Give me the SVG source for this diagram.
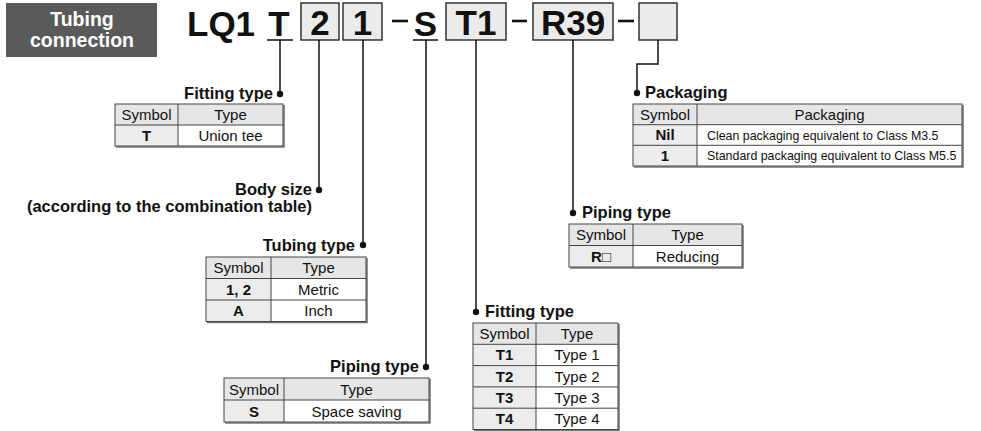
<svg xmlns="http://www.w3.org/2000/svg" width="981" height="431" viewBox="0 0 981 431">
<style>
text{font-family:"Liberation Sans",Arial,sans-serif;fill:#111}
.code{font-size:35px;font-weight:bold;text-anchor:middle}
.lab{font-size:16.5px;font-weight:bold}
.t{font-size:15px;text-anchor:middle}
.b{font-weight:bold}
.d{font-size:12.4px}
.box{fill:#ebebeb;stroke:#333;stroke-width:1.5}
.hd{fill:#e6e6e6}
.sy{fill:#ececec}
.wh{fill:#fff}
.grid{fill:none;stroke:#444;stroke-width:1}
.sh{fill:none;stroke:#777;stroke-width:1.6}
.con{fill:none;stroke:#111;stroke-width:1.5}
.dash{stroke:#111;stroke-width:2.6}
.ttl{font-size:19.5px;font-weight:bold;fill:#fff;text-anchor:middle}
</style>
<g id="title">
<rect x="6" y="3" width="151" height="54" fill="#5a5a5a"/>
<text x="82" y="26" class="ttl">Tubing</text>
<text x="82" y="47" class="ttl">connection</text>
</g>
<g id="code">
<text x="187" y="36" class="code" style="text-anchor:start">LQ1</text>
<text x="279" y="36" class="code">T</text>
<line x1="267" y1="40" x2="293" y2="40" stroke="#111" stroke-width="1.5"/>
<rect x="301" y="3" width="38" height="37" class="box"/>
<text x="320" y="35" class="code">2</text>
<rect x="343" y="3" width="39" height="37" class="box"/>
<text x="362.5" y="35" class="code">1</text>
<line x1="392" y1="21" x2="408" y2="21" class="dash"/>
<text x="425.5" y="36" class="code">S</text>
<line x1="413" y1="40" x2="438" y2="40" stroke="#111" stroke-width="1.5"/>
<rect x="446" y="3" width="60" height="37" class="box"/>
<text x="476" y="35" class="code">T1</text>
<line x1="512" y1="21" x2="527" y2="21" class="dash"/>
<rect x="533" y="3" width="80" height="37" class="box"/>
<text x="573" y="35" class="code">R39</text>
<line x1="618" y1="21" x2="634" y2="21" class="dash"/>
<rect x="639" y="3" width="38" height="37" class="box"/>
</g>
<g id="connectors">
<polyline points="280,40 280,94" class="con"/><circle cx="280" cy="94" r="3.2" fill="#111"/>
<polyline points="319,40 319,190" class="con"/><circle cx="319" cy="190" r="3.2" fill="#111"/>
<polyline points="363,40 363,245" class="con"/><circle cx="363" cy="245" r="3.2" fill="#111"/>
<polyline points="426,40 426,367" class="con"/><circle cx="426" cy="367" r="3.2" fill="#111"/>
<polyline points="476,40 476,312" class="con"/><circle cx="476" cy="312" r="3.2" fill="#111"/>
<polyline points="573,40 573,213" class="con"/><circle cx="573" cy="213" r="3.2" fill="#111"/>
<polyline points="658,40 658,64 637,64 637,93" class="con"/><circle cx="637" cy="93" r="3.2" fill="#111"/>
</g>
<g id="fitting-type-1">
<text x="273" y="99" class="lab" style="text-anchor:end">Fitting type</text>
<rect x="115" y="104" width="168" height="21" class="hd"/>
<rect x="115" y="125" width="63" height="21" class="sy"/>
<rect x="178" y="125" width="105" height="21" class="wh"/>
<polyline points="284,105 284,147 116,147" class="sh"/>
<rect x="115" y="104" width="168" height="42" class="grid"/>
<path d="M115 125H283M178 104V146" class="grid"/>
<text x="146.5" y="120" class="t">Symbol</text><text x="230.5" y="120" class="t">Type</text>
<text x="146.5" y="141" class="t b">T</text><text x="230.5" y="141" class="t">Union tee</text>
</g>
<g id="body-size">
<text x="312" y="195" class="lab" style="text-anchor:end">Body size</text>
<text x="312" y="212" class="lab" style="text-anchor:end">(according to the combination table)</text>
</g>
<g id="tubing-type">
<text x="355" y="251" class="lab" style="text-anchor:end">Tubing type</text>
<rect x="206" y="257" width="160" height="21.5" class="hd"/>
<rect x="206" y="278.5" width="65" height="43" class="sy"/>
<rect x="271" y="278.5" width="95" height="43" class="wh"/>
<polyline points="367,258 367,322.5 207,322.5" class="sh"/>
<rect x="206" y="257" width="160" height="64.5" class="grid"/>
<path d="M206 278.5H366M206 300H366M271 257V321.5" class="grid"/>
<text x="238.5" y="273" class="t">Symbol</text><text x="318.5" y="273" class="t">Type</text>
<text x="238.5" y="294.5" class="t b">1, 2</text><text x="318.5" y="294.5" class="t">Metric</text>
<text x="238.5" y="316" class="t b">A</text><text x="318.5" y="316" class="t">Inch</text>
</g>
<g id="piping-type-1">
<text x="419" y="372" class="lab" style="text-anchor:end">Piping type</text>
<rect x="224" y="378" width="205" height="22" class="hd"/>
<rect x="224" y="400" width="60" height="22" class="sy"/>
<rect x="284" y="400" width="145" height="22" class="wh"/>
<polyline points="430,379 430,423 225,423" class="sh"/>
<rect x="224" y="378" width="205" height="44" class="grid"/>
<path d="M224 400H429M284 378V422" class="grid"/>
<text x="254" y="394.5" class="t">Symbol</text><text x="356.5" y="394.5" class="t">Type</text>
<text x="254" y="416.5" class="t b">S</text><text x="356.5" y="416.5" class="t">Space saving</text>
</g>
<g id="fitting-type-2">
<text x="485" y="317" class="lab">Fitting type</text>
<rect x="473" y="323" width="145" height="21.3" class="hd"/>
<rect x="473" y="344.3" width="63" height="85.2" class="sy"/>
<rect x="536" y="344.3" width="82" height="85.2" class="wh"/>
<polyline points="619,324 619,430.3 474,430.3" class="sh"/>
<rect x="473" y="323" width="145" height="106.5" class="grid"/>
<path d="M473 344.3H618M473 365.6H618M473 386.9H618M473 408.2H618M536 323V429.5" class="grid"/>
<text x="504.5" y="339" class="t">Symbol</text><text x="577" y="339" class="t">Type</text>
<text x="504.5" y="360.3" class="t b">T1</text><text x="577" y="360.3" class="t">Type 1</text>
<text x="504.5" y="381.6" class="t b">T2</text><text x="577" y="381.6" class="t">Type 2</text>
<text x="504.5" y="402.9" class="t b">T3</text><text x="577" y="402.9" class="t">Type 3</text>
<text x="504.5" y="424.2" class="t b">T4</text><text x="577" y="424.2" class="t">Type 4</text>
</g>
<g id="piping-type-2">
<text x="582" y="218" class="lab">Piping type</text>
<rect x="569" y="224" width="173" height="21.5" class="hd"/>
<rect x="569" y="245.5" width="64" height="21.5" class="sy"/>
<rect x="633" y="245.5" width="109" height="21.5" class="wh"/>
<polyline points="743,225 743,268 570,268" class="sh"/>
<rect x="569" y="224" width="173" height="43" class="grid"/>
<path d="M569 245.5H742M633 224V267" class="grid"/>
<text x="601" y="240" class="t">Symbol</text><text x="687.5" y="240" class="t">Type</text>
<text x="601" y="261.5" class="t"><tspan class="b">R</tspan>□</text><text x="687.5" y="261.5" class="t">Reducing</text>
</g>
<g id="packaging">
<text x="645" y="98" class="lab">Packaging</text>
<rect x="633" y="104" width="329" height="20.7" class="hd"/>
<rect x="633" y="124.7" width="64" height="41.3" class="sy"/>
<rect x="697" y="124.7" width="265" height="41.3" class="wh"/>
<polyline points="963,105 963,167 634,167" class="sh"/>
<rect x="633" y="104" width="329" height="62" class="grid"/>
<path d="M633 124.7H962M633 145.3H962M697 104V166" class="grid"/>
<text x="665" y="119.5" class="t">Symbol</text><text x="829.5" y="119.5" class="t">Packaging</text>
<text x="665" y="140" class="t b">Nil</text>
<text x="707" y="139.5" class="d">Clean packaging equivalent to Class M3.5</text>
<text x="665" y="160.7" class="t b">1</text>
<text x="707" y="160.2" class="d">Standard packaging equivalent to Class M5.5</text>
</g>
</svg>
